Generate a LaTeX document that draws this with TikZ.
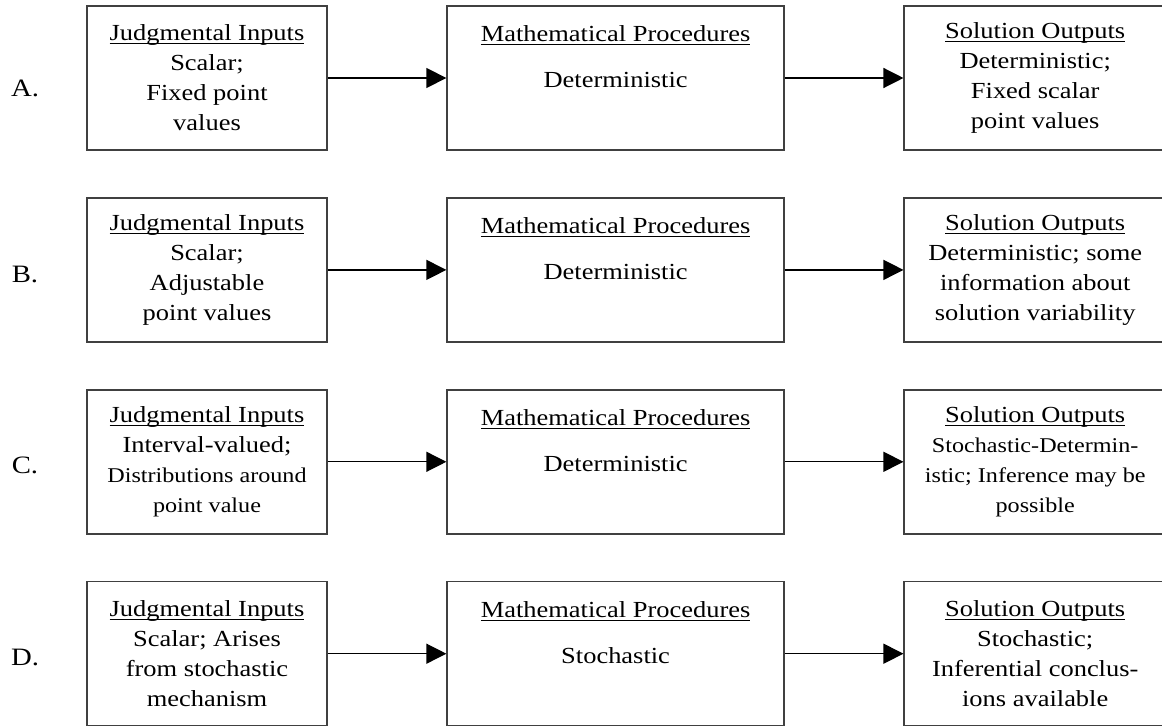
\documentclass[tikz,border=0pt]{standalone}
\usepackage{fontspec}
\setmainfont{Liberation Serif}[FakeStretch=1.15]
\usetikzlibrary{arrows.meta,positioning}

\newsavebox{\hdrbox}
\newcommand{\hdr}[1]{\sbox{\hdrbox}{#1}\rlap{\rule[-1.8pt]{\wd\hdrbox}{0.6pt}}\usebox{\hdrbox}}
\newcommand{\smalltxt}{\fontsize{10.5}{14.5}\selectfont}

\begin{document}
\begin{tikzpicture}[x=0.5pt,y=-0.5pt,>={Triangle[length=10pt,width=10pt]},node distance=23.2pt and 59.3pt,font=\fontsize{11.5}{15}\selectfont]
\tikzstyle{box} = [draw=black!75,line width=0.75pt,minimum height=72pt,align=center,inner sep=0pt]
\tikzstyle{inbox} = [box,minimum width=120pt]
\tikzstyle{procbox} = [box,minimum width=168.5pt]
\tikzstyle{outbox} = [box,minimum width=131pt]
\tikzstyle{txt} = [align=center,inner sep=0pt]
\tikzstyle{lbl} = [font=\fontsize{12.5}{15}\selectfont,inner sep=0pt]
\useasboundingbox (0,0) rectangle (1162,727);

    % A
    \node[inbox] (inA) at (207,78) {\hdr{Judgmental Inputs}\\Scalar;\\Fixed point\\values};
    \node[procbox] (procA) [right=of inA] {};
    \node[outbox] (outA) [right=of procA] {\hdr{Solution Outputs}\\Deterministic;\\Fixed scalar\\point values};
    \node[txt] (procAtxt) [below=10pt of procA.north] {\hdr{Mathematical Procedures}\\[8pt]Deterministic};
    % B
    \node[inbox] (inB) [below=of inA] {\hdr{Judgmental Inputs}\\Scalar;\\Adjustable\\point values};
    \node[procbox] (procB) [right=of inB] {};
    \node[outbox] (outB) [right=of procB] {\hdr{Solution Outputs}\\Deterministic; some\\information about\\solution variability};
    \node[txt] (procBtxt) [below=10pt of procB.north] {\hdr{Mathematical Procedures}\\[8pt]Deterministic};
    % C
    \node[inbox] (inC) [below=of inB] {\hdr{Judgmental Inputs}\\Interval-valued;\\\smalltxt Distributions around\\\smalltxt point value};
    \node[procbox] (procC) [right=of inC] {};
    \node[outbox] (outC) [right=of procC] {\hdr{Solution Outputs}\\\smalltxt Stochastic-Determin-\\\smalltxt istic; Inference may be\\\smalltxt possible};
    \node[txt] (procCtxt) [below=10pt of procC.north] {\hdr{Mathematical Procedures}\\[8pt]Deterministic};
    % D
    \node[inbox] (inD) [below=of inC] {\hdr{Judgmental Inputs}\\Scalar; Arises\\from stochastic\\mechanism};
    \node[procbox] (procD) [right=of inD] {};
    \node[outbox] (outD) [right=of procD] {\hdr{Solution Outputs}\\Stochastic;\\Inferential conclus-\\ions available};
    \node[txt] (procDtxt) [below=10pt of procD.north] {\hdr{Mathematical Procedures}\\[8pt]Stochastic};

    \node[lbl] (labA) at (25,88) {A.};
    \node[lbl] (labB) at (25,274) {B.};
    \node[lbl] (labC) at (25,465) {C.};
    \node[lbl] (labD) at (25,657) {D.};

    \tikzset{flow/.style={->,line width=0.65pt}}
    \draw (inA) edge [flow] (procA);
    \draw (procA) edge [flow] (outA);
    \draw (inB) edge [flow] (procB);
    \draw (procB) edge [flow] (outB);
    \draw (inC) edge [flow] (procC);
    \draw (procC) edge [flow] (outC);
    \draw (inD) edge [flow] (procD);
    \draw (procD) edge [flow] (outD);
\end{tikzpicture}
\end{document}
